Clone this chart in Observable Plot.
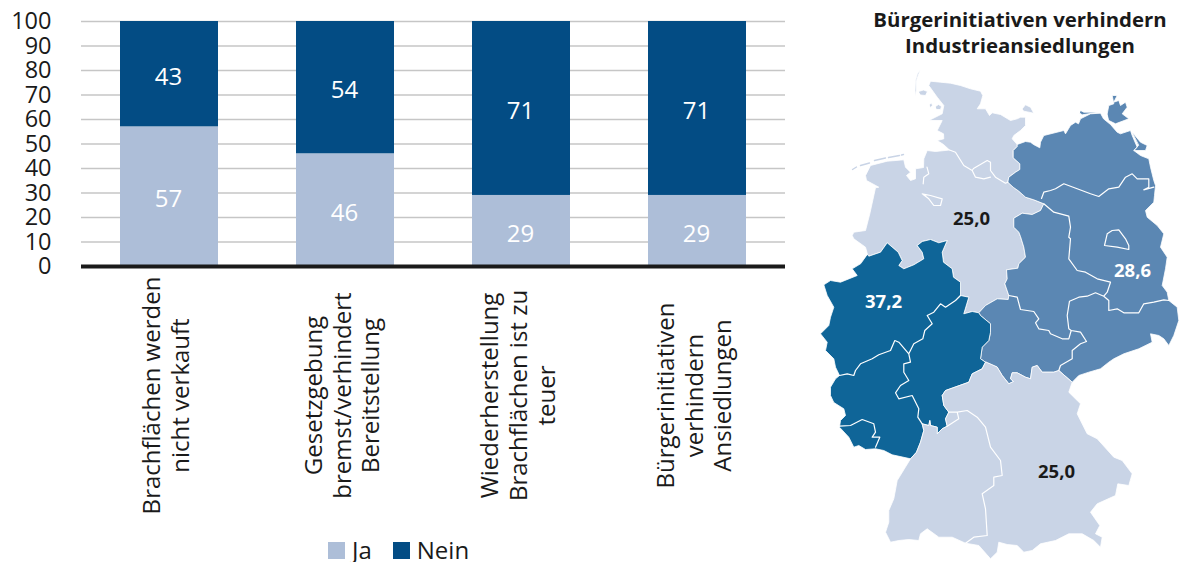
<!DOCTYPE html>
<html lang="de">
<head>
<meta charset="utf-8">
<title>Brachflächen und Bürgerinitiativen</title>
<script src="https://cdn.jsdelivr.net/npm/d3@7"></script>
<script src="https://cdn.jsdelivr.net/npm/@observablehq/plot@0.6"></script>
<style>
  html, body { margin: 0; padding: 0; background: #fff; }
  body { position: relative; width: 1180px; height: 562px; overflow: hidden; font-family: "Open Sans", sans-serif; color: #1a1a1a; }
  #bars { position: absolute; left: 0; top: 0; }
  #map { position: absolute; left: 800px; top: 60px; }
  #map-title { position: absolute; left: 840px; width: 360px; top: 6px; text-align: center; font-weight: 700; font-size: 20.4px; line-height: 26px; }
  #legend { position: absolute; left: 328px; top: 538px; display: flex; align-items: center; font-size: 24px; line-height: 24px; }
  #legend i { display: inline-block; width: 17px; height: 17px; margin-right: 7px; }
  #legend span { display: inline-flex; align-items: center; margin-right: 21px; }
</style>
</head>
<body>
<div id="bars"></div>
<div id="map-title">Bürgerinitiativen verhindern<br>Industrieansiedlungen</div>
<div id="map"></div>
<div id="legend"></div>
<script>
// Survey answers, share of respondents in percent
const categories = [
  "Brachflächen werden\nnicht verkauft",
  "Gesetzgebung\nbremst/verhindert\nBereitstellung",
  "Wiederherstellung\nBrachflächen ist zu\nteuer",
  "Bürgerinitiativen\nverhindern\nAnsiedlungen"
];
const ja = [57, 46, 29, 29];
const nein = [43, 54, 71, 71];
const answers = ["Ja", "Nein"];
const answerColors = ["#adbed8", "#034c84"];
const yTicks = [0, 10, 20, 30, 40, 50, 60, 70, 80, 90, 100];

// Regional shares in percent, one per group of federal states
const regionNames = ["Nord", "Ost", "West", "Süd"];
const regionValues = [25.0, 28.6, 37.2, 25.0];
const regionShades = ["#c9d4e6", "#5b87b3", "#0f6598"];

// Outline sections on a planar map grid, shared between neighbouring regions
const northCoast = [[867,254],[865,246.7],[853.3,238.3],[851.7,235],[853.3,231.7],[865,230],[869.3,213.3],[875,187.3],[878.3,186.7],[866,180],[865,175],[870,165],[886.7,160.7],[903.3,159.3],[905,166.7],[910,171.7],[906,175],[910,180],[915,178.3],[915,168.3],[923,167],[923.3,158.3],[926.7,150],[935,151],[949,149.5],[943,144],[936.7,140],[943.3,138.3],[943,133.3],[936.7,130],[941.7,120],[928.3,120],[941.7,113.3],[943.3,105],[936.7,96.7],[928.3,85],[930,80.7],[940,81.7],[950,82.7],[960,85],[970,88.3],[980,90.7],[982.3,95],[980,103.3],[976.7,108.3],[985,108.3],[989,115],[991.7,112.3],[1000,114],[1010,120],[1016.7,118.3],[1020,116.7],[1025,116.7],[1025,125],[1020,130],[1013.3,135],[1011.7,138.3],[1016.7,144]];
const northEastBorder = [[1016.7,144],[1016.7,146],[1012.7,150],[1012.7,157.3],[1019.3,163.3],[1019.3,169],[1015,171.7],[1008.3,176.7],[1007.3,181.7],[1012.7,186.7],[1018.3,190.7],[1025,196.7],[1033.3,199.3],[1043.3,203.3],[1040,210],[1031.7,214],[1021.7,212.7],[1013.3,217.7],[1013.3,226.7],[1018.3,231.7],[1020,236],[1023.3,246.7],[1025,256.7],[1018.3,263.3],[1017.3,267.7],[1006,269.3],[1006.7,278.3],[1004.3,283.3],[1008.3,295],[1007.7,299],[996.7,298.3],[985,305],[978.3,312.3]];
const northWestBorder = [[978.3,312.3],[971.7,311],[963.3,313.3],[968.3,296.7],[960,295],[960,281.7],[953,276.7],[951.7,268.3],[943,261.7],[941.7,251.7],[946.7,240],[938.3,242.3],[930,239],[921.7,241],[916.7,245],[921.7,251.7],[923.3,258.3],[913.3,264.3],[903.3,268.3],[898.3,265],[901.7,260],[897.7,251.7],[886.7,242.3],[880,251.7],[868.3,255.7],[867,254]];
const eastCoast = [[1016.7,144],[1025,141],[1030,141.7],[1033,144],[1039.3,147.3],[1040,141.7],[1043.3,135],[1063.3,130],[1065,133.3],[1070,125],[1075,121.7],[1078,123.3],[1080,118.3],[1090,113.3],[1100,112.7],[1103,118.3],[1110,124],[1116.7,131.7],[1120,133.3],[1130,130],[1131.7,135],[1136.7,146.7],[1133.3,150],[1140,155],[1148.3,158.3],[1150,166.7],[1153.3,180],[1155,185],[1154,195],[1153.3,201.7],[1145,210],[1146.7,216.7],[1156.7,225],[1163.3,233.3],[1160,246.7],[1166.7,256.7],[1165,268.3],[1161.7,285],[1166.7,291.7],[1168.3,300],[1176.7,306.7],[1178.3,320],[1173.3,335],[1168.3,345],[1163.3,338.3],[1158.3,335],[1150,333.3],[1151.7,341.7],[1138.3,348.3],[1123.3,353.3],[1113.3,358.3],[1108.3,361.7],[1100,368.3],[1088.3,371.7],[1078.3,375],[1071.7,381.7]];
const eastSouthBorder = [[1071.7,381.7],[1058.3,370],[1053.3,371.7],[1041.7,371.7],[1036.7,365],[1031.7,366.7],[1030,378.3],[1025,376.7],[1016.7,372.3],[1011.7,372.3],[1010,378.3],[1013,381],[1008.3,383.3],[1001.7,375],[996.7,366.7],[985,361.7]];
const eastWestBorder = [[985,361.7],[980,358.3],[981.7,346.7],[988.3,340],[990,331.7],[990,323.3],[980,315],[978.3,312.3]];
const westSouthBorder = [[985,361.7],[981.7,368.3],[971.7,373.3],[968.3,381.7],[945,390],[941.7,395],[943.3,405],[948.3,411.7],[945,418.3],[946.7,425.7],[941.7,428.3],[936.7,433.3],[936.7,426.7],[930,425],[929.3,420],[928.3,425],[921.7,423.3],[923.3,430],[920,441.7],[916,451.7],[910,458.3]];
const westCoast = [[910,458.3],[891.7,454.3],[883.3,450],[875,448.3],[865,449],[858.3,445],[853.3,446.7],[848.3,436.7],[839,426.7],[840,420],[845,415],[843.3,408.3],[833.3,402],[830,395],[830,386.7],[835,378.3],[839,375],[835,366.7],[833.3,358.3],[825,350],[826.7,341.7],[820,333.3],[828.3,325],[830,316.7],[833.3,306.7],[826.7,295],[823.3,284.3],[830,280],[840,281.7],[856.7,275],[851.7,268.3],[860,263.3],[867,254]];
const southCoast = [[910,458.3],[896.7,480],[893.3,498.3],[888.3,510],[888.3,521.7],[885,531.7],[890,541.7],[898.3,540],[908.3,539],[918.3,540],[920,533.3],[926.7,528.3],[938.3,536.7],[951.7,536.7],[965,542.7],[978.3,545],[990,558.3],[996.7,551.7],[998.3,541.7],[1006.7,544],[1016.7,545],[1023.3,551.7],[1031.7,550],[1040,543.3],[1055,540],[1068.3,533.3],[1081.7,533.3],[1093.3,540],[1100,546.7],[1101.7,536.7],[1095,533.3],[1099.3,525],[1090,511.7],[1096.7,503.3],[1115,495],[1117.3,483.3],[1128.3,485],[1131.7,473.3],[1121.7,460],[1113.3,456.7],[1096.7,438.3],[1086.7,433.3],[1076.7,413.3],[1080,403.3],[1068.3,391.7],[1071.7,381.7]];

// Islands of the North Sea and the Baltic
const northIslands = [
  [[920,69.3],[917,73],[915,80],[914.5,90],[915,96.7],[915.8,90],[916,80],[918,74],[920,69.3]],
  [[918,91],[923,89.5],[927,91],[925,95],[920,94.5],[918,91]],
  [[929,104],[931,102.5],[932,105],[929.5,107],[929,104]],
  [[935,106],[938,104],[941,106],[940,109],[936,109],[935,106]],
  [[1021.7,108.3],[1025,104.3],[1030,106.7],[1033.3,112.7],[1023.3,110.7],[1021.7,108.3]]
];
const eastIslands = [
  [[1106.7,113.3],[1108.3,105],[1113.3,103.3],[1111.7,95],[1116.7,95],[1113.3,101.7],[1118.3,100],[1120,105],[1125,101.7],[1126.7,106.7],[1121.7,113.3],[1128.3,118.3],[1115,123.3],[1108.3,120],[1106.7,113.3]],
  [[1080,110],[1083.3,111.7],[1098.3,111.7],[1081.7,114.3],[1079.3,112.7],[1080,110]],
  [[1131.7,131.7],[1140,141.7],[1146.7,145],[1145,150],[1133.3,150],[1138,145],[1131.7,131.7]]
];
const frisianIslands = [
  [[852,169],[856,166.5]],
  [[860,165],[869,162.5]],
  [[874,160],[885,157.5]],
  [[888,157],[899,155]],
  [[901,154.5],[903,154]]
];

// State borders inside a region, plus the city states
const innerBorders = [
  [[949,149.5],[955,151.7],[963.3,165],[971.7,170],[973,168],[986.7,160],[990,161.7],[990,170],[995,176.7],[1005,182.7],[1007.3,181.7]],
  [[971.7,170],[975,176.7],[983.3,178.3],[990,176.7]],
  [[921.7,193.3],[930,195],[941.7,198.3],[940,205],[933.3,205],[928.3,198.3],[921.7,193.3]],
  [[926.5,166.7],[928.3,173.3],[923.3,176.7],[922.7,183.3]],
  [[1041,198],[1043.3,191.7],[1050,190],[1055,188.3],[1063.3,183.3],[1076.7,188.3],[1090,193.3],[1098.3,196],[1108.3,188.3],[1118.3,186.7],[1125,176.7],[1131.7,173.3],[1136.7,178.3],[1148.3,178.3],[1148.3,186.7],[1143.3,189.3],[1153.3,186.7]],
  [[1043.3,203.3],[1053.3,211.7],[1068.3,215.7],[1070,226.7],[1068.3,236.7],[1070,238.3],[1068.3,258.3],[1076.7,270],[1085,271.7],[1096.7,278.3],[1110,281.7],[1106.7,291.7],[1103.3,295.7]],
  [[1103.3,295.7],[1095,292.3],[1086.7,295.7],[1078.3,296.7],[1069,300.7],[1066.7,315],[1068.3,328.3],[1070.7,330]],
  [[1103.3,295.7],[1108.3,300],[1108.3,310],[1116.7,308.3],[1123.3,312.3],[1138.3,312.3],[1143.3,303.3],[1153.3,301.7],[1163.3,299.3],[1168.3,300]],
  [[1008.3,295],[1016.7,296.7],[1020,309],[1033.3,311],[1038.3,318.3],[1035,322.3],[1038.3,328.3],[1048.3,330],[1050,333.3],[1061.7,338.3],[1068.3,338.3],[1070.7,330]],
  [[1070.7,330],[1080,331.7],[1086,341],[1080,343.3],[1071.7,350],[1071.7,358.3],[1060,365],[1058.3,370]],
  [[1106.7,233.3],[1111.7,230],[1118.3,229.3],[1125,238.3],[1128.3,245],[1128.3,249],[1116.7,246.7],[1104,245],[1106.7,233.3]],
  [[960,295],[955,300],[945,306.7],[940,303.3],[933.3,311.7],[926.7,315],[931.7,323.3],[924.3,330],[922.3,338.3],[913.3,343.3],[908.3,353.3]],
  [[908.3,353.3],[898.3,341.7],[894.3,340],[890,350],[878.3,354.3],[871.7,358.3],[860,363.3],[855,370],[853.3,375],[846.7,373.3],[839,375]],
  [[908.3,353.3],[910,361.7],[903.3,363.3],[903.3,371.7],[908.3,380],[900,385],[895,392.3],[898.3,398.3],[911.7,395],[918.3,408.3],[917.3,416.7],[921.7,423.3]],
  [[839,425.7],[850,425],[861.7,419],[873.3,423.3],[875,431.7],[871.7,436.7],[879.3,436.7],[875,446.7]],
  [[948.3,411.7],[956.7,411.7],[958.3,418.3],[946.7,425.7]],
  [[956.7,411.7],[966.7,410],[976.7,416.7],[985,426.7],[990,446.7],[1000,460],[1001.7,475],[993.3,476.7],[993.3,485],[981.7,493.3],[985,508.3],[986.7,535],[973.3,536.7],[965,542.7]]
];

// Value labels on the map grid
const labelX = [971, 1132, 883, 1056];
const labelY = [219, 271, 302, 472];
const labelFills = ["#1a1a1a", "#ffffff", "#ffffff", "#1a1a1a"];

const reversed = a => a.slice().reverse();

// Closed rings for the four regions, assembled from the shared sections
const regionRings = [
  [[...northCoast, ...northEastBorder, ...northWestBorder], ...northIslands],
  [[...eastCoast, ...eastSouthBorder, ...eastWestBorder, ...reversed(northEastBorder)], ...eastIslands],
  [[...reversed(northWestBorder), ...reversed(eastWestBorder), ...westSouthBorder, ...westCoast]],
  [[...westSouthBorder, ...southCoast, ...eastSouthBorder]]
];
const regions = regionNames.map((name, i) => ({
  name,
  value: regionValues[i],
  geometry: {type: "MultiPolygon", coordinates: regionRings[i].map(ring => [ring])}
}));
const rows = answers.flatMap((answer, s) =>
  categories.map((category, i) => ({category, answer, value: (s === 0 ? ja : nein)[i]}))
);
const mapLabels = regionValues.map((value, i) => ({
  x: labelX[i], y: labelY[i], fill: labelFills[i],
  text: value.toFixed(1).replace(".", ",")
}));

// Stacked bars with rotated category labels
const bars = Plot.plot({
  width: 800,
  height: 530,
  marginLeft: 81,
  marginRight: 15,
  marginTop: 21,
  marginBottom: 264,
  style: {fontFamily: "'Open Sans', sans-serif", background: "transparent", color: "#1a1a1a"},
  x: {domain: categories, paddingInner: 0.443, paddingOuter: 0.2215, axis: null},
  y: {domain: [0, 100], axis: null},
  color: {domain: answers, range: answerColors},
  marks: [
    Plot.ruleY(yTicks, {stroke: "#c6c6c6", strokeWidth: 1.5}),
    Plot.barY(rows, {x: "category", y: "value", fill: "answer"}),
    Plot.text(rows, Plot.stackY({
      x: "category", y: "value", z: "answer",
      text: d => String(d.value), fill: "#ffffff", fontSize: 24, dx: -1, dy: 3
    })),
    Plot.ruleY([0], {stroke: "#1a1a1a", strokeWidth: 4}),
    Plot.axisY({
      ticks: yTicks, tickSize: 0, tickPadding: 30, label: null,
      fontSize: 23.5, tickFormat: d => String(d), fill: "#1a1a1a"
    }),
    Plot.text(categories, {
      x: d => d, y: () => 0, text: d => d,
      rotate: -90, dx: -4, dy: 129, fontSize: 24, lineHeight: 1.18, fill: "#1a1a1a"
    })
  ]
});
document.getElementById("bars").append(bars);

// Choropleth: a planar transform keeps the grid at one unit per pixel
const shift = () => d3.geoTransform({
  point(x, y) { this.stream.point(x - 800, y - 60); }
});
const map = Plot.plot({
  width: 380,
  height: 502,
  margin: 0,
  style: {fontFamily: "'Open Sans', sans-serif", background: "transparent"},
  projection: shift,
  color: {type: "ordinal", domain: [25.0, 28.6, 37.2], range: regionShades},
  marks: [
    Plot.geo(regions, {geometry: d => d.geometry, fill: d => d.value, stroke: "#ffffff", strokeWidth: 0.8, strokeLinejoin: "round"}),
    Plot.geo([{type: "MultiLineString", coordinates: innerBorders}], {fill: "none", stroke: "#ffffff", strokeWidth: 1.2, strokeLinejoin: "round"}),
    Plot.geo([{type: "MultiLineString", coordinates: frisianIslands}], {fill: "none", stroke: regionShades[0], strokeWidth: 1.4}),
    Plot.text(mapLabels, {x: "x", y: "y", text: "text", fill: "fill", fontSize: 18.5, fontWeight: 700})
  ]
});
document.getElementById("map").append(map);

// Legend below the bars
const legend = document.getElementById("legend");
answers.forEach((answer, i) => {
  const item = document.createElement("span");
  const swatch = document.createElement("i");
  swatch.style.background = answerColors[i];
  item.append(swatch, answer);
  legend.append(item);
});
</script>
</body>
</html>
